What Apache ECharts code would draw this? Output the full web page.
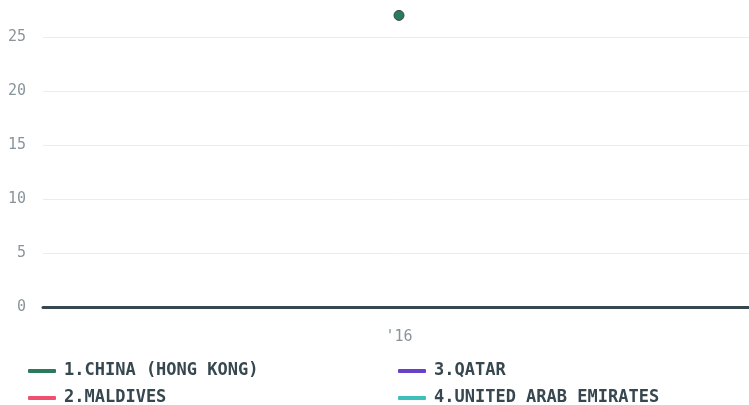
<!DOCTYPE html>
<html><head><meta charset="utf-8">
<script src="https://cdn.jsdelivr.net/npm/echarts@6/dist/echarts.min.js"></script>
<style>html,body{margin:0;padding:0;background:#fff}#c{width:749px;height:405px}</style>
</head><body><div id="c"></div>
<script>
const categories = ["'16"];
const seriesNames = ["1.CHINA (HONG KONG)", "2.MALDIVES", "3.QATAR", "4.UNITED ARAB EMIRATES"];
const chinaHK = [27];
const maldives = [null];
const qatar = [null];
const uae = [null];
const colors = ["#2b7a5c", "#f0506e", "#6a3fc9", "#3fbfba"];

const chart = echarts.init(document.getElementById('c'));
const allData = [chinaHK, maldives, qatar, uae];
chart.setOption({
  animation:false,
  grid:{left:43, right:-6, top:-17, bottom:98, containLabel:false, outerBoundsMode:'none'},
  xAxis:{type:'category', data:categories, boundaryGap:true,
    axisLine:{show:true, onZero:true, lineStyle:{color:'#37474f', width:3}},
    axisTick:{show:false},
    axisLabel:{color:'#8a959b', fontFamily:'DejaVu Sans Mono', fontSize:15, margin:23}},
  yAxis:{type:'value', min:0, max:30, interval:5,
    axisLine:{show:false}, axisTick:{show:false},
    splitLine:{lineStyle:{color:'#ececec', width:1}},
    axisLabel:{color:'#8a959b', fontFamily:'DejaVu Sans Mono', fontSize:15, margin:17}},
  legend:{data:seriesNames, orient:'vertical', left:28, top:361, height:50, padding:0,
    itemGap:7, itemWidth:28, itemHeight:4, icon:'roundRect',
    itemStyle:{borderWidth:0},
    textStyle:{color:'#37474f', fontFamily:'DejaVu Sans Mono', fontWeight:'bold', fontSize:17,
      width:327, lineHeight:20, overflow:'truncate', padding:[0,0,0,3]}},
  series: seriesNames.map((n,i)=>({
    name:n, type:'line', data:allData[i], color:colors[i],
    symbol:'circle', symbolSize:10, showSymbol:true,
    itemStyle:{color:colors[i], borderColor:'#37474f', borderWidth:1},
    lineStyle:{width:3}
  }))
});
</script></body></html>
